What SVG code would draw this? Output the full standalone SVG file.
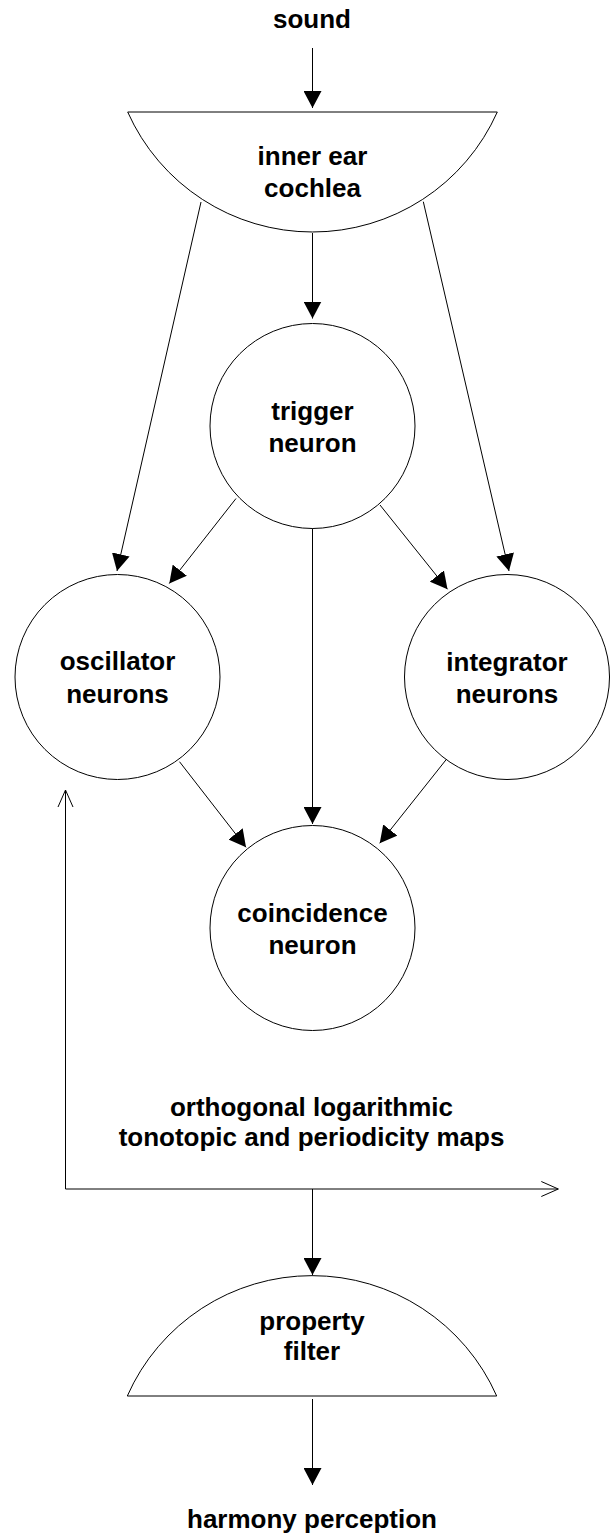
<svg xmlns="http://www.w3.org/2000/svg" width="611" height="1534" viewBox="0 0 611 1534">
<defs>
<style>
text{font-family:"Liberation Sans",Arial,sans-serif;font-weight:bold;font-size:26px;fill:#000;text-anchor:middle}
.shape{fill:#fff;stroke:#000;stroke-width:1}
.edge{fill:none;stroke:#000;stroke-width:1}
</style>
<marker id="arrow" markerUnits="userSpaceOnUse" viewBox="0 0 17 18" refX="17" refY="9" markerWidth="17" markerHeight="18" orient="auto">
<path d="M0,0 L17,9 L0,18 z" fill="#000"/>
</marker>
<marker id="open" markerUnits="userSpaceOnUse" viewBox="-1 -1 19 17" refX="17" refY="7.5" markerWidth="19" markerHeight="17" orient="auto-start-reverse">
<path d="M0,0 L17,7.5 L0,15" fill="none" stroke="#000" stroke-width="1"/>
</marker>
</defs>
<rect width="611" height="1534" fill="#fff"/>

<g id="sound"><text x="312" y="28">sound</text></g>

<g id="cochlea">
<path class="shape" d="M127.7,112 A202.3,202.3 0 0 0 497.3,112 Z"/>
<text x="312.5" y="165">inner ear</text>
<text x="312.5" y="197">cochlea</text>
</g>

<g id="trigger">
<circle class="shape" cx="312.5" cy="426" r="102.5"/>
<text x="312.5" y="419.5">trigger</text>
<text x="312.5" y="451.5">neuron</text>
</g>

<g id="oscillator">
<circle class="shape" cx="117.5" cy="677" r="102.5"/>
<text x="117.5" y="670">oscillator</text>
<text x="117.5" y="703">neurons</text>
</g>

<g id="integrator">
<circle class="shape" cx="507" cy="677" r="102.5"/>
<text x="507" y="670.5">integrator</text>
<text x="507" y="703">neurons</text>
</g>

<g id="coincidence">
<circle class="shape" cx="312.5" cy="928" r="102.5"/>
<text x="312.5" y="921.5">coincidence</text>
<text x="312.5" y="954">neuron</text>
</g>

<g id="maps">
<text x="311.5" y="1115.5">orthogonal logarithmic</text>
<text x="311.5" y="1146">tonotopic and periodicity maps</text>
</g>

<g id="filter">
<path class="shape" d="M127.3,1396 A201.9,201.9 0 0 1 496.7,1396 Z"/>
<text x="312" y="1329.5">property</text>
<text x="312" y="1360">filter</text>
</g>

<g id="harmony"><text x="312" y="1528">harmony perception</text></g>

<g id="connectors">
<line class="edge" x1="312.5" y1="48" x2="312.5" y2="108" marker-end="url(#arrow)"/>
<line class="edge" x1="312.5" y1="233" x2="312.5" y2="318.5" marker-end="url(#arrow)"/>
<line class="edge" x1="201" y1="202" x2="117" y2="571" marker-end="url(#arrow)"/>
<line class="edge" x1="423.3" y1="201.7" x2="509" y2="571" marker-end="url(#arrow)"/>
<line class="edge" x1="236" y1="498.5" x2="169.3" y2="583.5" marker-end="url(#arrow)"/>
<line class="edge" x1="380" y1="505" x2="447.5" y2="589.3" marker-end="url(#arrow)"/>
<line class="edge" x1="312.5" y1="528.5" x2="312.5" y2="824" marker-end="url(#arrow)"/>
<line class="edge" x1="179.5" y1="761.7" x2="246" y2="847.3" marker-end="url(#arrow)"/>
<line class="edge" x1="446.5" y1="759.2" x2="379.7" y2="843.3" marker-end="url(#arrow)"/>
<path class="edge" d="M65.5,790 L65.5,1189 L558.3,1189" marker-start="url(#open)" marker-end="url(#open)"/>
<line class="edge" x1="312.5" y1="1189" x2="312.5" y2="1275" marker-end="url(#arrow)"/>
<line class="edge" x1="312.5" y1="1399" x2="312.5" y2="1485" marker-end="url(#arrow)"/>
</g>
</svg>
